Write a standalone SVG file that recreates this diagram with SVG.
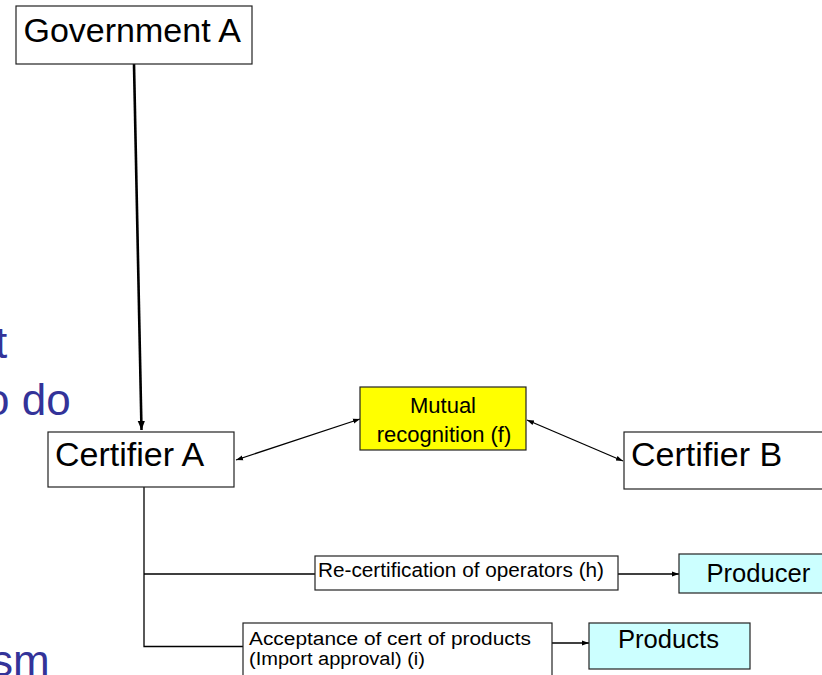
<svg xmlns="http://www.w3.org/2000/svg" width="822" height="675" viewBox="0 0 822 675">
<defs>
<marker id="ah" viewBox="0 0 10 10" refX="10" refY="5" markerWidth="9" markerHeight="9" markerUnits="userSpaceOnUse" orient="auto"><path d="M0,1 L10,5 L0,9 z" fill="#000"/></marker>
<marker id="as" viewBox="0 0 10 10" refX="10" refY="5" markerWidth="7" markerHeight="7" markerUnits="userSpaceOnUse" orient="auto-start-reverse"><path d="M0,1.5 L10,5 L0,8.5 z" fill="#000"/></marker>
<style>
.box{fill:#fff;stroke:#222;stroke-width:1.2}
.t{font-family:"Liberation Sans",Arial,sans-serif;fill:#000}
.big{font-size:34px}
.mid{font-size:25.6px}
.sm{font-size:20.5px}
.sm2{font-size:18px}
.bg{font-family:"Liberation Sans",Arial,sans-serif;fill:#333399;font-size:44px}
.ln{stroke:#000;stroke-width:1.3;fill:none}
</style>
</defs>
<g id="background-text">
<text class="bg" x="-5" y="358">t</text>
<text class="bg" x="-15" y="415">o do</text>
<text class="bg" x="-9" y="676">sm</text>
</g>
<g id="connectors">
<line x1="134" y1="64" x2="141.5" y2="430" stroke="#000" stroke-width="2.6" marker-end="url(#ah)"/>
<line class="ln" x1="236" y1="460" x2="360" y2="419" marker-start="url(#as)" marker-end="url(#as)"/>
<line class="ln" x1="527" y1="420" x2="623" y2="461" marker-start="url(#as)" marker-end="url(#as)"/>
<path class="ln" d="M144 487 V646.5 H243 M144 574 H315"/>
<line class="ln" x1="618" y1="574" x2="679" y2="574" marker-end="url(#as)"/>
<line class="ln" x1="552" y1="643" x2="589" y2="643" marker-end="url(#as)"/>
</g>
<g id="government-a">
<rect class="box" x="16" y="6" width="236" height="58"/>
<text class="t big" x="23.5" y="42">Government A</text>
</g>
<g id="certifier-a">
<rect class="box" x="48" y="432" width="186" height="55"/>
<text class="t big" x="55" y="466">Certifier A</text>
</g>
<g id="mutual-recognition">
<rect x="360" y="387" width="166" height="63" fill="#ffff00" stroke="#222" stroke-width="1.2"/>
<text class="t" font-size="22" x="443" y="413" text-anchor="middle">Mutual</text>
<text class="t" font-size="22" x="444" y="442" text-anchor="middle">recognition (f)</text>
</g>
<g id="certifier-b">
<rect class="box" x="624" y="432" width="200" height="57"/>
<text class="t big" x="631" y="466">Certifier B</text>
</g>
<g id="recertification">
<rect class="box" x="315" y="556" width="303" height="34"/>
<text class="t sm" x="318" y="577" textLength="286" lengthAdjust="spacingAndGlyphs">Re-certification of operators (h)</text>
</g>
<g id="producer">
<rect x="679" y="554" width="145" height="39" fill="#ccffff" stroke="#222" stroke-width="1.2"/>
<text class="t mid" x="706.5" y="582">Producer</text>
</g>
<g id="acceptance">
<rect class="box" x="243" y="623" width="309" height="60"/>
<text class="t sm2" x="249" y="645" textLength="282" lengthAdjust="spacingAndGlyphs">Acceptance of cert of products</text>
<text class="t sm2" x="249" y="664.5" textLength="176" lengthAdjust="spacingAndGlyphs">(Import approval) (i)</text>
</g>
<g id="products">
<rect x="589" y="623" width="161" height="46" fill="#ccffff" stroke="#222" stroke-width="1.2"/>
<text class="t mid" x="618" y="648">Products</text>
</g>
</svg>
